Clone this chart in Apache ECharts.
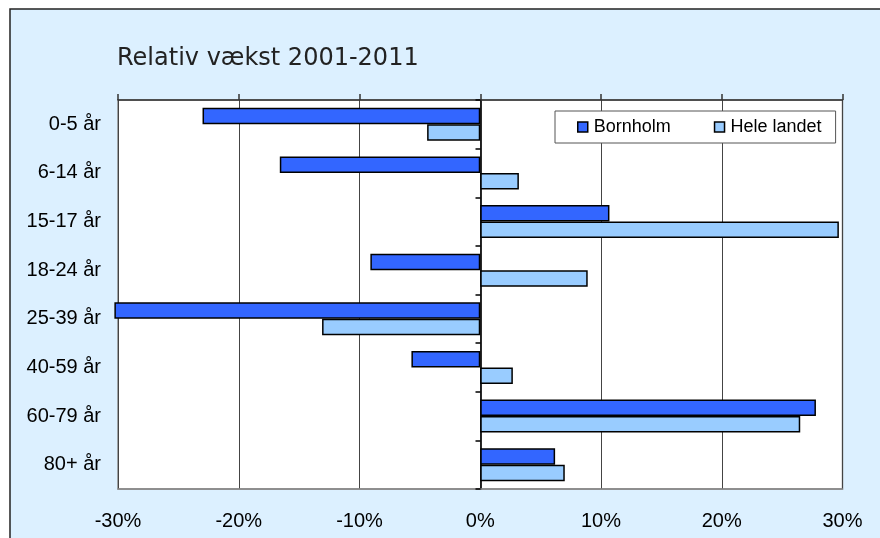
<!DOCTYPE html>
<html>
<head>
<meta charset="utf-8">
<script src="https://cdn.jsdelivr.net/npm/echarts@6/dist/echarts.min.js"></script>
<style>
  html, body { margin: 0; padding: 0; background: #fff; }
  #chart { width: 880px; height: 538px; }
</style>
</head>
<body>
<div id="chart"></div>
<script>
// aldersgrupper, fra top til bund
const categories = ['0-5 år', '6-14 år', '15-17 år', '18-24 år', '25-39 år', '40-59 år', '60-79 år', '80+ år']
const bornholm = [-23.0, -16.6, 10.7, -9.1, -30.3, -5.7, 27.8, 6.2]
const heleLandet = [-4.4, 3.2, 29.7, 8.9, -13.1, 2.7, 26.5, 7.0]
const seriesNames = ['Bornholm', 'Hele landet']
const xTicks = [-30, -20, -10, 0, 10, 20, 30]

const chart = echarts.init(document.getElementById('chart'))

const labelFont = 'Liberation Sans, Arial, sans-serif'

chart.setOption({
  backgroundColor: '#fff',
  animation: false,
  graphic: [{
    type: 'rect',
    z: -10,
    silent: true,
    shape: { x: 10, y: 9, width: 880, height: 540 },
    style: { fill: '#DCF0FF', stroke: '#222', lineWidth: 1.5 }
  }],
  title: {
    text: 'Relativ vækst 2001-2011',
    left: 112,
    top: 42,
    textStyle: {
      fontFamily: 'DejaVu Sans, Verdana, sans-serif',
      fontSize: 24,
      fontWeight: 'normal',
      color: '#222'
    }
  },
  legend: {
    data: seriesNames,
    left: 555,
    top: 111,
    orient: 'horizontal',
    backgroundColor: '#fff',
    borderColor: '#555',
    borderWidth: 1,
    padding: [7, 14, 7, 22],
    itemWidth: 10,
    itemHeight: 10,
    itemGap: 43,
    icon: 'rect',
    itemStyle: { borderColor: '#000', borderWidth: 1.5 },
    textStyle: { fontFamily: labelFont, fontSize: 18, color: '#000', padding: [0, 0, 0, 1] }
  },
  grid: {
    left: 118,
    right: 37.5,
    top: 100,
    bottom: 49,
    show: true,
    backgroundColor: '#fff',
    borderColor: '#888',
    borderWidth: 1.5
  },
  xAxis: [
    {
      type: 'value',
      min: -30,
      max: 30,
      interval: 10,
      position: 'bottom',
      axisLine: { show: true, lineStyle: { color: '#888', width: 1.5 } },
      axisTick: { show: false },
      axisLabel: {
        margin: 22,
        fontFamily: labelFont,
        fontSize: 20,
        color: '#000',
        formatter: v => xTicks.includes(v) ? v + '%' : ''
      },
      splitLine: { show: true, lineStyle: { color: '#444', width: 1 } }
    },
    {
      type: 'value',
      min: -30,
      max: 30,
      interval: 10,
      position: 'top',
      axisLine: { show: true, lineStyle: { color: '#333', width: 1.5 } },
      axisTick: { show: true, length: 6, lineStyle: { color: '#333', width: 1.5 } },
      axisLabel: { show: false },
      splitLine: { show: false }
    }
  ],
  yAxis: [
    {
      type: 'category',
      data: categories,
      inverse: true,
      position: 'left',
      axisLine: { show: true, lineStyle: { color: '#888', width: 1.5 } },
      axisTick: { show: false },
      axisLabel: { margin: 17, fontFamily: labelFont, fontSize: 20, color: '#000' }
    },
    {
      // nul-aksen med tick-mærker mellem grupperne
      type: 'category',
      data: categories,
      inverse: true,
      position: 'left',
      offset: -362.5,
      axisLine: { show: true, onZero: false, lineStyle: { color: '#000', width: 1.5 } },
      axisTick: { show: true, length: 5, lineStyle: { color: '#000', width: 1.5 } },
      axisLabel: { show: false }
    }
  ],
  series: [
    {
      name: seriesNames[0],
      type: 'bar',
      data: bornholm,
      barGap: '0%',
      barCategoryGap: '32%',
      clip: false,
      z: 5,
      itemStyle: { color: '#3366FF', borderColor: '#000', borderWidth: 1.5 }
    },
    {
      name: seriesNames[1],
      type: 'bar',
      data: heleLandet,
      barGap: '0%',
      barCategoryGap: '32%',
      clip: false,
      z: 5,
      itemStyle: { color: '#99CCFF', borderColor: '#000', borderWidth: 1.5 }
    }
  ]
})
</script>
</body>
</html>
